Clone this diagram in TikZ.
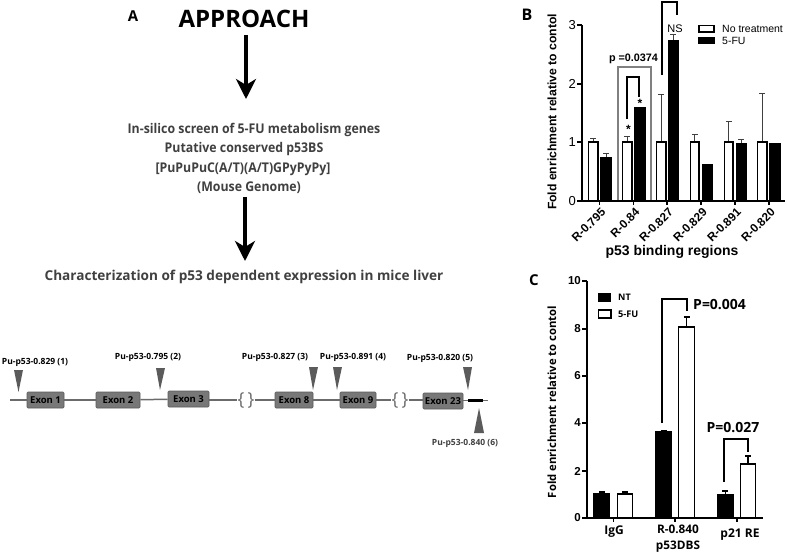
\documentclass[tikz,border=0pt]{standalone}
\usepackage{fontspec}
\setmainfont{Open Sans}
\newfontfamily\chartfont{Liberation Sans}
\newfontfamily\condfont[FakeStretch=0.92]{Open Sans}
\usetikzlibrary{arrows.meta}
\definecolor{txtgray}{gray}{0.25}
\definecolor{exongray}{gray}{0.47}
\definecolor{linegray}{gray}{0.42}
\tikzset{
  px/.style={x=1pt,y=-1pt},
  bigarrow/.style={line width=3.6pt,-{Stealth[length=20pt,width=20pt,inset=6pt]}},
  flowtext/.style={font=\condfont\fontsize{13.4}{16}\selectfont\bfseries,text=txtgray,align=center,inner sep=0pt},
  exon/.style={draw=gray!70!black,fill=exongray,line width=.6pt,rounded corners=1pt,inner sep=0pt,minimum height=16pt,font=\fontsize{9.5}{12}\selectfont\bfseries,text=black},
  site/.style={font=\fontsize{8.5}{10}\selectfont\bfseries,inner sep=0pt},
  marker/.style={fill=linegray!85!black,draw=none},
  gene/.style={line width=1.5pt,draw=linegray},
  paren/.style={font=\fontsize{18}{20}\selectfont,text=linegray,inner sep=0pt},
  whitebar/.style={draw=black,line width=1.8pt,fill=white},
  blackbar/.style={draw=black,line width=1.5pt,fill=black},
  axisline/.style={line width=1.8pt,draw=black},
  errbar/.style={line width=1pt,draw=linegray!60!black},
  brace/.style={line width=2pt,draw=black},
  ticklab/.style={font=\chartfont\fontsize{11.5}{13}\selectfont\bfseries,inner sep=0pt,anchor=east},
  panel/.style={font=\fontsize{15}{17}\selectfont\bfseries,inner sep=0pt},
}
% bar: x1, x2, top y, error top y, style, base y
\newcommand{\bb}[6]{%
  \draw[errbar] ({(#1+#2)/2},#3) -- ({(#1+#2)/2},#4) ({(#1+#2)/2-3},#4) -- ({(#1+#2)/2+3},#4);
  \draw[#5] (#1,#6) rectangle (#2,#3);}
\begin{document}
\begin{tikzpicture}[px]
\useasboundingbox (0,0) rectangle (787,554);
% Panel A flow
\node[panel] (pa) at (133,16) {A};
\node[inner sep=0pt,font=\fontsize{24}{26}\selectfont\bfseries] (approach) at (244,19) {APPROACH};
\node[flowtext] (f1) at (254,130) {In-silico screen of 5-FU metabolism genes};
\node[flowtext] (f2) at (244,149.5) {Putative conserved p53BS};
\node[flowtext] (f3) at (243,169) {[PuPuPuC(A/T)(A/T)GPyPyPy]};
\node[flowtext] (f4) at (249,188) {(Mouse Genome)};
\node[flowtext,font=\fontsize{13.6}{16}\selectfont\bfseries] (charact) at (244,277) {Characterization of p53 dependent expression in mice liver};
\coordinate (a1s) at (246,35);
\coordinate (a1e) at (246,99);
\coordinate (a2s) at (245,197);
\coordinate (a2e) at (245,261);
\draw[bigarrow] (a1s) -- (a1e);
\draw[bigarrow] (a2s) -- (a2e);
% Gene model
\coordinate (gs) at (10,400);
\coordinate (ge) at (488,400);
\node[exon,minimum width=37pt] (e1) at (45.5,400) {Exon 1};
\node[exon,minimum width=44pt] (e2) at (118,400) {Exon 2};
\node[exon,minimum width=41pt] (e3) at (188.5,399) {Exon 3};
\node[exon,minimum width=38pt] (e8) at (294,400) {Exon 8};
\node[exon,minimum width=36pt] (e9) at (358,400) {Exon 9};
\node[exon,minimum width=40pt] (e23) at (443,401) {Exon 23};
\node[paren] (b1) at (241,400) {\{};
\node[paren] (b2) at (251,400) {\}};
\node[paren] (b3) at (395,400) {\{};
\node[paren] (b4) at (405,400) {\}};
\coordinate (tail) at (468,400.5);
\coordinate (tail2) at (483,400.5);
\draw[gene] (gs) -- (e1.west);
\draw[gene] (e1) -- (e2);
\draw[gene] (e2) -- (e3);
\draw[gene] (e3.east |- b1) -- (b1);
\draw[gene] (b2) -- (e8.west |- b2);
\draw[gene] (e8) -- (e9);
\draw[gene] (e9.east |- b3) -- (b3);
\draw[gene] (b4) -- (e23.west |- b4);
\draw[gene] (e23.east |- tail) -- (tail);
\draw[gene] (tail2) -- (ge |- tail2);
\draw[line width=3.2pt,draw=black] (tail) -- (tail2);
% markers
\fill[marker] (14,370) -- (23,370) -- (18.5,392) -- cycle;
\fill[marker] (156,368) -- (165,368) -- (160,390) -- cycle;
\fill[marker] (309,367) -- (318,367) -- (313,390) -- cycle;
\fill[marker] (333,367) -- (342,367) -- (337,390) -- cycle;
\fill[marker] (463,367) -- (472,367) -- (468,390) -- cycle;
\fill[marker] (474,433) -- (484,433) -- (479,408) -- cycle;
\node[site] (s1) at (35,362.5) {Pu-p53-0.829 (1)};
\node[site] (s2) at (148,357) {Pu-p53-0.795 (2)};
\node[site] (s3) at (275,357) {Pu-p53-0.827 (3)};
\node[site] (s4) at (353,357) {Pu-p53-0.891 (4)};
\node[site] (s5) at (440,358) {Pu-p53-0.820 (5)};
\node[site,text=txtgray] (s6) at (465,443) {Pu-p53-0.840 (6)};
% Panel B
\node[panel,font=\fontsize{16}{18}\selectfont\bfseries] (pb) at (527,15) {B};
\draw[line width=1.4pt,draw=gray] (618,201) -- (618,67) -- (651,67) -- (651,201);
\bb{588.5}{598}{142}{138}{whitebar}{201}
\bb{601}{611}{158}{153}{blackbar}{201}
\bb{622.5}{632}{142}{136}{whitebar}{201}
\bb{634.5}{645}{108}{108}{blackbar}{201}
\bb{656.5}{666}{142}{94}{whitebar}{201}
\bb{668.5}{678}{41}{34}{blackbar}{201}
\bb{690.5}{699}{142}{134}{whitebar}{201}
\bb{702.5}{712}{165}{164}{blackbar}{201}
\bb{724.5}{733}{142}{121}{whitebar}{201}
\bb{736.5}{746}{144}{139}{blackbar}{201}
\bb{757.5}{767}{142}{93}{whitebar}{201}
\bb{769.5}{780}{144}{143.5}{blackbar}{201}
\draw[axisline] (582,25) -- (582,201) -- (785,201);
\foreach \yy/\ll in {25/3,84/2,142/1,201/0}{
  \draw[axisline] (577,\yy) -- (582,\yy);
  \node[ticklab,font=\chartfont\fontsize{13}{14}\selectfont] at (576,\yy) {\ll};}
\foreach \xx/\ll in {599.5/R-0.795,633.5/R-0.84,667/R-0.827,701/R-0.829,735/R-0.891,769/R-0.820}{
  \draw[axisline] (\xx,201) -- (\xx,205);
  \node[font=\chartfont\fontsize{11.8}{14}\selectfont\bfseries,rotate=45,anchor=north east,inner sep=0pt] at (\xx+1,207) {\ll};}
\draw[brace] (627,119) -- (627,77) -- (639,77) -- (639,97);
\draw[brace] (662,75) -- (662,2) -- (677,2) -- (677,15);
\node[font=\chartfont\fontsize{10.8}{12}\selectfont\bfseries,inner sep=0pt] (pv) at (633.5,59) {p =0.0374};
\node[font=\chartfont\fontsize{11}{12}\selectfont,inner sep=0pt] (ns) at (675,29) {NS};
\node[font=\chartfont\fontsize{12}{12}\selectfont\bfseries,inner sep=0pt] at (640,103) {*};
\node[font=\chartfont\fontsize{12}{12}\selectfont\bfseries,inner sep=0pt] at (628.5,129) {*};
\draw[whitebar] (699,25.5) rectangle (714,32);
\fill (698,37) rectangle (715,44);
\node[font=\chartfont\fontsize{10.5}{12}\selectfont,anchor=west,inner sep=0pt] (l1) at (722,29) {No treatment};
\node[font=\chartfont\fontsize{10.5}{12}\selectfont,anchor=west,inner sep=0pt] (l2) at (722,41) {5-FU};
\node[font=\chartfont\fontsize{12.2}{14}\selectfont\bfseries,rotate=90,inner sep=0pt] (yb) at (552,112) {Fold enrichment relative to contol};
\node[font=\chartfont\fontsize{14}{16}\selectfont\bfseries,inner sep=0pt] (xb) at (672,252) {p53 binding regions};
% Panel C
\node[panel] (pc) at (534,280) {C};
\begin{scope}[errbar/.append style={draw=black,line width=1.3pt}]
\bb{594}{609.5}{494}{492}{blackbar}{518}
\bb{617.5}{632.5}{494}{492}{whitebar}{518}
\bb{655.5}{671.5}{432}{431}{blackbar}{518}
\bb{678.5}{694.5}{327}{317}{whitebar}{518}
\bb{717.5}{733}{494.5}{491}{blackbar}{518}
\bb{740.5}{755.5}{464}{456}{whitebar}{518}
\end{scope}
\draw[axisline] (587,281) -- (587,518) -- (763,518);
\foreach \yy/\ll in {281/10,329/8,376/6,423/4,471/2,518/0}{
  \draw[axisline] (582,\yy) -- (587,\yy);
  \node[ticklab] at (581,\yy) {\ll};}
\foreach \xx in {613.5,675,737}{ \draw[axisline] (\xx,518) -- (\xx,522); }
\draw[brace] (662,423) -- (662,299) -- (687,299) -- (687,311);
\draw[brace] (724,482) -- (724,439) -- (748,439) -- (748,452);
\node[font=\fontsize{14}{16}\selectfont\bfseries,anchor=west,inner sep=0pt] (p1) at (693,305) {P=0.004};
\node[font=\fontsize{14}{16}\selectfont\bfseries,inner sep=0pt] (p2) at (733,428) {P=0.027};
\fill (598,293) rectangle (611,302);
\draw[whitebar,line width=1.2pt] (598.5,310) rectangle (611,318);
\node[font=\fontsize{9}{10}\selectfont\bfseries,anchor=west,inner sep=0pt] (n1) at (618,297) {NT};
\node[font=\fontsize{9.2}{10}\selectfont\bfseries,anchor=west,inner sep=0pt] (n2) at (618,314) {5-FU};
\node[font=\fontsize{11.3}{13}\selectfont\bfseries,rotate=90,inner sep=0pt] (yc) at (552,402) {Fold enrichment relative to contol};
\node[font=\fontsize{12}{14}\selectfont\bfseries,inner sep=0pt] (c1) at (614,532) {IgG};
\node[font=\fontsize{11.8}{16}\selectfont\bfseries,align=center,inner sep=0pt] (c2) at (678,539) {R-0.840\\p53DBS};
\node[font=\fontsize{12}{14}\selectfont\bfseries,inner sep=0pt] (c3) at (740,535) {p21 RE};
\end{tikzpicture}
\end{document}
